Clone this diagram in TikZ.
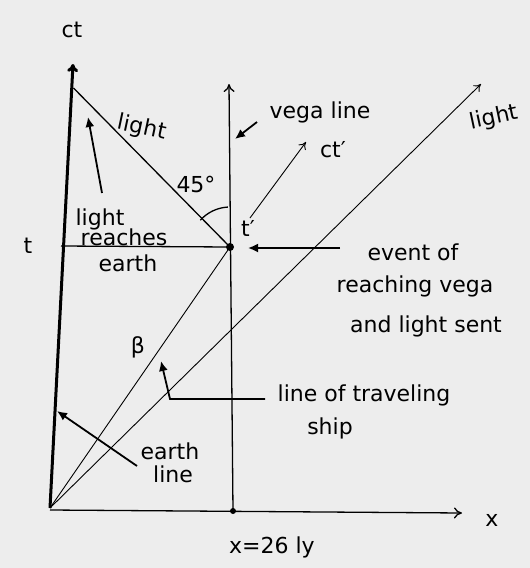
\documentclass[tikz,border=0pt]{standalone}
\usepackage{fontspec}
\setmainfont{DejaVu Sans}
\usetikzlibrary{arrows.meta}
\begin{document}
\begin{tikzpicture}[x=1pt,y=-1pt,
  lbl/.style={font=\fontsize{22}{24}\selectfont, inner sep=1pt},
  axis/.style={line width=1.3pt, -{To[length=8pt,width=11pt]}},
  thinline/.style={line width=0.9pt},
  ptr/.style={line width=1.8pt, -{Latex[length=10pt,width=9pt]}},
]
\fill[black!7] (0,0) rectangle (530,568);
\useasboundingbox (0,0) rectangle (530,568);
% key points
\coordinate (O) at (50,508);
\coordinate (Etop) at (73,64);
\coordinate (Ehit) at (73.5,88);
\coordinate (Ev) at (230,247);
\coordinate (Vb) at (233,511);
\coordinate (Vt) at (229,84);
\coordinate (Xs) at (50,510);
\coordinate (Xt) at (462,513);
\coordinate (Lt) at (481,84);
\coordinate (H0) at (61,246);
\coordinate (Cs) at (250,218);
\coordinate (Ct) at (306,142);
% axes and lines
\draw[line width=3pt, -{To[length=8pt,width=11pt]}] (O) -- (Etop);
\draw[axis] (Xs) -- (Xt);
\draw[axis] (Vb) -- (Vt);
\draw[line width=1.3pt] (H0) -- (Ev);
\draw[line width=1.3pt] (Ehit) -- (Ev);
\draw[thinline] (O) -- (Ev);
\draw[thinline, -{To[length=7pt,width=9pt]}] (Cs) -- (Ct);
\draw[thinline, -{To[length=7pt,width=9pt]}] (O) -- (Lt);
\fill (Ev) circle (4pt);
\fill (Vb) circle (3pt);
\draw[line width=1.3pt] (Ev) ++(138:40pt) arc[start angle=138, end angle=93, radius=40pt];
% pointers
\coordinate (P1s) at (102,193); \coordinate (P1t) at (88,117);
\draw[ptr] (P1s) -- (P1t);
\coordinate (P2s) at (257,122); \coordinate (P2t) at (235,139);
\draw[ptr] (P2s) -- (P2t);
\coordinate (P3s) at (340,248); \coordinate (P3t) at (248,248);
\draw[ptr] (P3s) -- (P3t);
\coordinate (P4s) at (265,399); \coordinate (P4m) at (170,399); \coordinate (P4t) at (161,361);
\draw[ptr] (P4s) -- (P4m) -- (P4t);
\coordinate (P5s) at (137,466); \coordinate (P5t) at (57,411);
\draw[ptr] (P5s) -- (P5t);
% labels
\node[lbl] (lct) at (72,30) {ct};
\node[lbl] (lt) at (28,246) {t};
\node[lbl, rotate=-12] (llight1) at (142,128) {light};
\node[lbl] (l45) at (196,184) {45°};
\node[lbl] (ltp) at (248,228) {t′};
\node[lbl] (lvega) at (320,112) {vega line};
\node[lbl] (lctp) at (333,150) {ct′};
\node[lbl, rotate=12] (llight2) at (494,118) {light};
\node[lbl] (lr1) at (100,219) {light};
\node[lbl] (lr2) at (124,237) {reaches};
\node[lbl] (lr3) at (128,263) {earth};
\node[lbl] (le1) at (413,252) {event of};
\node[lbl] (le2) at (415,286) {reaching vega};
\node[lbl] (le3) at (426,326) {and light sent};
\node[lbl] (lbeta) at (138,347) {β};
\node[lbl] (ls1) at (364,395) {line of traveling};
\node[lbl] (ls2) at (330,428) {ship};
\node[lbl] (lea1) at (170,451) {earth};
\node[lbl] (lea2) at (173,474) {line};
\node[lbl] (lx26) at (272,547) {x=26 ly};
\node[lbl] (lx) at (492,520) {x};
\end{tikzpicture}
\end{document}
